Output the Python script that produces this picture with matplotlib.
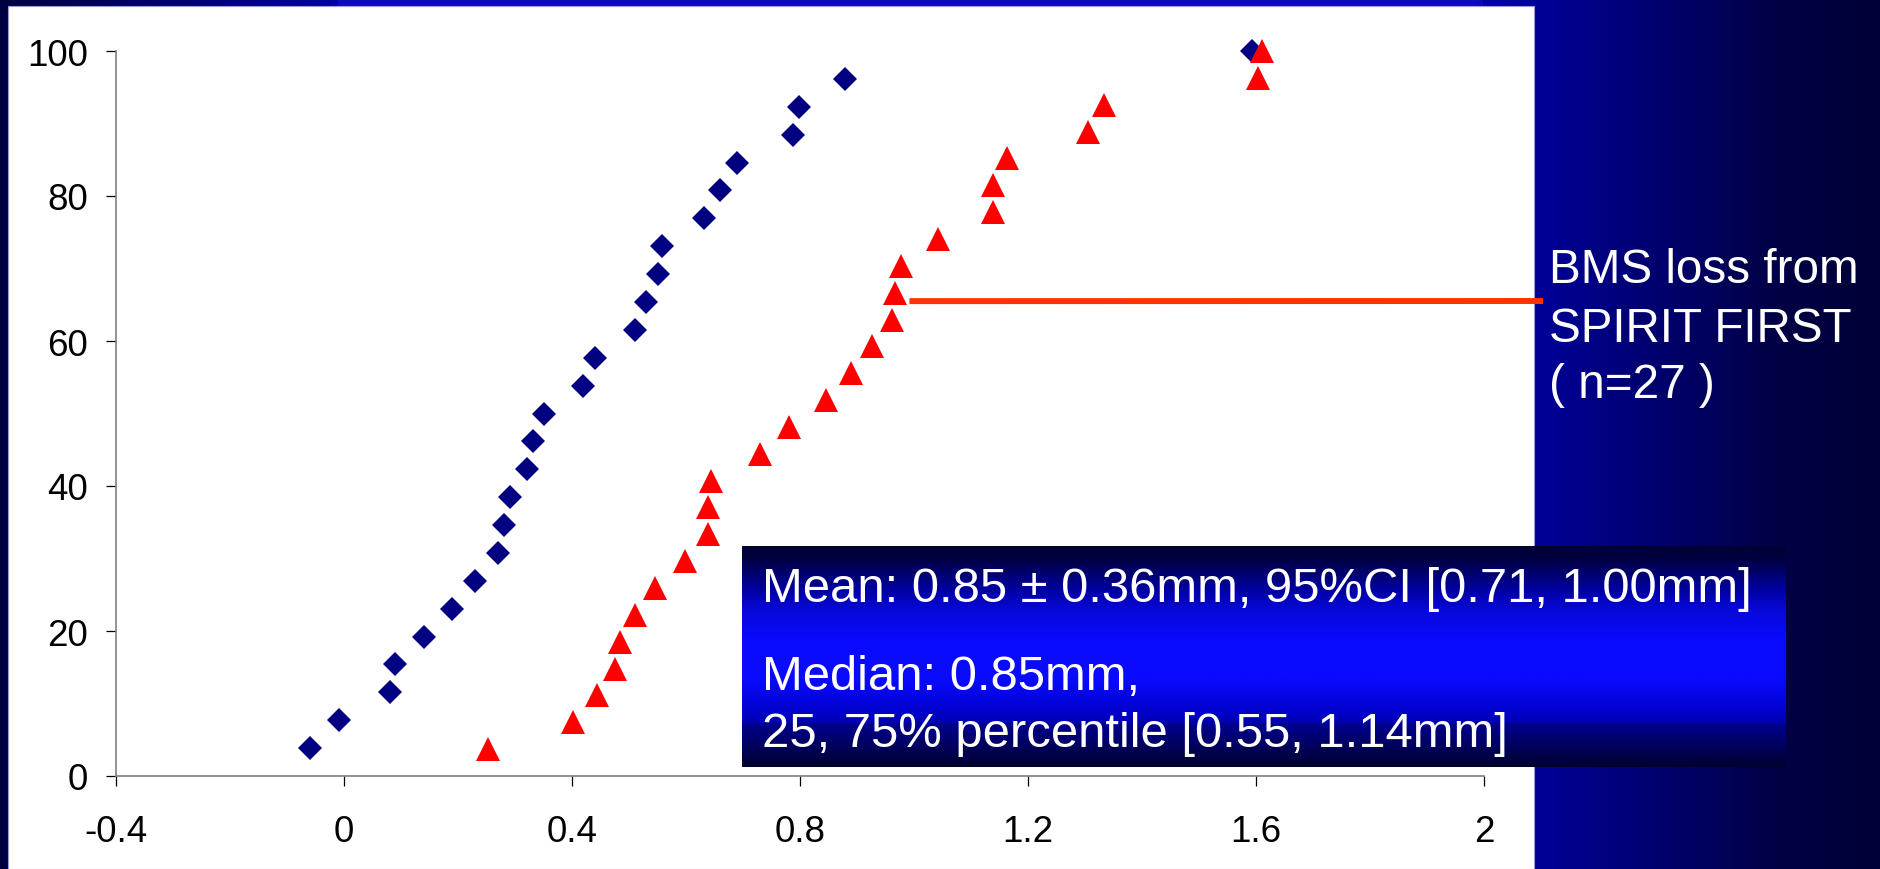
import numpy as np
import matplotlib
matplotlib.use("Agg")
import matplotlib.pyplot as plt
from matplotlib.colors import LinearSegmentedColormap
from matplotlib.patches import Rectangle

# ---------------- data ----------------
blue_x = [-0.059, -0.008, 0.080, 0.090, 0.141, 0.190, 0.230, 0.270, 0.281, 0.291,
          0.321, 0.331, 0.350, 0.419, 0.440, 0.510, 0.529, 0.550, 0.558, 0.631,
          0.660, 0.689, 0.788, 0.799, 0.879, 1.593]
blue_y = [3.85, 7.69, 11.54, 15.38, 19.23, 23.08, 26.92, 30.77, 34.62, 38.46,
          42.31, 46.15, 50.00, 53.85, 57.69, 61.54, 65.38, 69.23, 73.08, 76.92,
          80.77, 84.62, 88.46, 92.31, 96.15, 100.0]

red_x = [0.253, 0.401, 0.443, 0.475, 0.484, 0.510, 0.545, 0.599, 0.639, 0.639,
         0.643, 0.729, 0.780, 0.845, 0.889, 0.927, 0.962, 0.967, 0.978, 1.042,
         1.138, 1.138, 1.163, 1.306, 1.334, 1.604, 1.611]
red_y = [3.70, 7.41, 11.11, 14.81, 18.52, 22.22, 25.93, 29.63, 33.33, 37.04,
         40.74, 44.44, 48.15, 51.85, 55.56, 59.26, 62.96, 66.67, 70.37, 74.07,
         77.78, 81.48, 85.19, 88.89, 92.59, 96.30, 100.0]

x_ticks = [-0.4, 0, 0.4, 0.8, 1.2, 1.6, 2]
x_tick_labels = ["-0.4", "0", "0.4", "0.8", "1.2", "1.6", "2"]
y_ticks = [0, 20, 40, 60, 80, 100]
y_tick_labels = ["0", "20", "40", "60", "80", "100"]

annot_point = (0.992, 65.5)
side_lines = ["BMS loss from", "SPIRIT FIRST", "( n=27 )"]
box_lines = ["Mean: 0.85 \u00b1 0.36mm, 95%CI [0.71, 1.00mm]",
             "Median: 0.85mm,",
             "25, 75% percentile [0.55, 1.14mm]"]

# ---------------- figure ----------------
W, H = 1880, 870
plt.rcParams['font.family'] = ['Liberation Sans', 'DejaVu Sans']
fig = plt.figure(figsize=(W / 100, H / 100), dpi=100)

# background layer (pixel coordinates)
bg = fig.add_axes([0, 0, 1, 1], zorder=0)
bg.set_xlim(0, W)
bg.set_ylim(H, 0)
bg.axis('off')

def hexc(h):
    h = h.lstrip('#')
    return tuple(int(h[i:i + 2], 16) / 255 for i in (0, 2, 4))

stops = [(0, '#000040'), (330, '#0000a0'), (336, '#0c0cbc'), (1480, '#0c0cbc'),
         (1490, '#0000a8'), (1534, '#00009a'), (1780, '#000045'), (1880, '#000038')]
cm_bg = LinearSegmentedColormap.from_list('bg', [(p / W, hexc(c)) for p, c in stops])
grad = np.linspace(0, 1, 1880).reshape(1, -1)
bg.imshow(grad, cmap=cm_bg, extent=[0, W, H, 0], aspect='auto', interpolation='bilinear')

# white panel
bg.add_patch(Rectangle((8, 6.5), 1534 - 8, H - 6.5, facecolor='white',
                       edgecolor='#9a9ad8', linewidth=0.8))

# main axes
l, r = 116 / W, 1484 / W
b, t = (H - 777) / H, (H - 52) / H
ax = fig.add_axes([l, b, r - l, t - b], zorder=2)
ax.set_facecolor('none')
ax.set_xlim(-0.4, 2.0)
ax.set_ylim(0, 100)
for s in ['top', 'right']:
    ax.spines[s].set_visible(False)
for s in ['left', 'bottom']:
    ax.spines[s].set_color('#808080')
    ax.spines[s].set_linewidth(1.2)

ax.set_xticks(x_ticks)
ax.set_xticklabels(x_tick_labels)
ax.set_yticks(y_ticks)
ax.set_yticklabels(y_tick_labels)
ax.tick_params(axis='both', direction='out', length=7.2, width=0.9, color='black',
               labelsize=26.5, labelcolor='black')
ax.tick_params(axis='x', pad=20)
ax.tick_params(axis='y', pad=13)

ax.plot(blue_x, blue_y, linestyle='none', marker='D', markersize=12,
        color='#000080', markeredgewidth=0, clip_on=False, zorder=3)
ax.plot(red_x, red_y, linestyle='none', marker='^', markersize=16.8,
        color='#ff0000', markeredgewidth=0, clip_on=False, zorder=4)

# annotation line to side label
ax.annotate('', xy=annot_point, xycoords='data',
            xytext=(1543, H - 302), textcoords='figure pixels',
            arrowprops=dict(arrowstyle='-', color='#ff3300', lw=4.3,
                            shrinkA=0, shrinkB=0, capstyle='butt'), zorder=3.5)

# overlay layer
ov = fig.add_axes([0, 0, 1, 1], zorder=3)
ov.set_facecolor('none')
ov.set_xlim(0, W)
ov.set_ylim(H, 0)
ov.axis('off')

box_stops = [(547, '#000033'), (560, '#000045'), (590, '#0000a0'), (610, '#0808d8'),
             (640, '#0a0aff'), (680, '#0a0aff'), (715, '#0000c8'), (724, '#0000b0'),
             (725, '#000090'), (768, '#000030')]
y0, y1 = 547, 768
cm_box = LinearSegmentedColormap.from_list(
    'box', [((p - y0) / (y1 - y0), hexc(c)) for p, c in box_stops])
vgrad = np.linspace(0, 1, 400).reshape(-1, 1)
ov.imshow(vgrad, cmap=cm_box, extent=[742, 1786, y1, y0], aspect='auto',
          interpolation='bilinear')
ov.set_xlim(0, W)
ov.set_ylim(H, 0)

for txt, yb in zip(box_lines, [602, 690, 747]):
    ov.text(762, yb, txt, color='white', fontsize=35.3, va='baseline', ha='left')

for txt, yb in zip(side_lines, [283, 342, 398]):
    ov.text(1549, yb, txt, color='white', fontsize=34.3, va='baseline', ha='left')

fig.savefig('out.png', dpi=100)
